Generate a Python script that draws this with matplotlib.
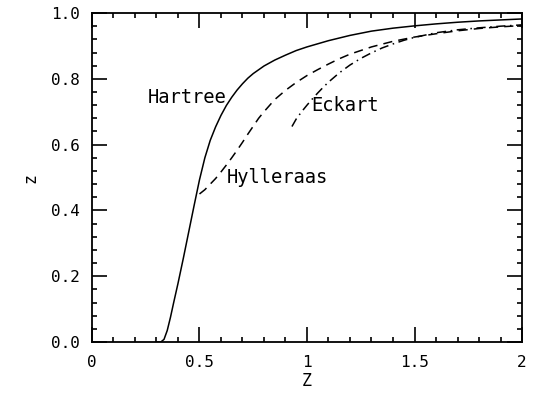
import matplotlib
matplotlib.use("Agg")
import matplotlib.pyplot as plt
from matplotlib.ticker import MultipleLocator


# =========================================
# Curves (z vs Z)
# =========================================

hartree_Z = [0.30, 0.32, 0.335, 0.35, 0.365, 0.38, 0.40, 0.425, 0.45,
             0.475, 0.50, 0.525, 0.55, 0.575, 0.60, 0.625, 0.65, 0.675,
             0.70, 0.725, 0.75, 0.80, 0.85, 0.90, 0.95, 1.0, 1.1, 1.2,
             1.3, 1.4, 1.5, 1.6, 1.7, 1.8, 1.9, 2.0]
hartree_z = [0.0, 0.0, 0.008, 0.035, 0.075, 0.12, 0.178, 0.255, 0.335,
             0.415, 0.493, 0.56, 0.613, 0.654, 0.689, 0.719, 0.744, 0.766,
             0.785, 0.802, 0.816, 0.839, 0.857, 0.872, 0.886, 0.897, 0.916,
             0.932, 0.945, 0.954, 0.961, 0.967, 0.972, 0.976, 0.979, 0.982]

hylleraas_Z = [0.50, 0.525, 0.55, 0.575, 0.60, 0.625, 0.65, 0.675, 0.70,
               0.725, 0.75, 0.775, 0.80, 0.85, 0.90, 0.95, 1.0, 1.05, 1.1,
               1.15, 1.2, 1.3, 1.4, 1.5, 1.6, 1.7, 1.8, 1.9, 2.0]
hylleraas_z = [0.45, 0.463, 0.48, 0.497, 0.517, 0.538, 0.56, 0.583, 0.607,
               0.632, 0.656, 0.68, 0.70, 0.737, 0.765, 0.789, 0.81, 0.828,
               0.845, 0.861, 0.875, 0.897, 0.914, 0.927, 0.937, 0.946,
               0.953, 0.958, 0.962]

eckart_Z = [0.93, 0.95, 0.975, 1.0, 1.025, 1.05, 1.075, 1.1, 1.15, 1.2,
            1.25, 1.3, 1.35, 1.4, 1.45, 1.5, 1.6, 1.7, 1.8, 1.9, 2.0]
eckart_z = [0.655, 0.678, 0.70, 0.72, 0.739, 0.757, 0.774, 0.79, 0.818,
            0.842, 0.862, 0.879, 0.894, 0.906, 0.917, 0.926, 0.94, 0.949,
            0.955, 0.96, 0.964]

x_ticks = [0, 0.5, 1, 1.5, 2]
x_tick_labels = ["0", "0.5", "1", "1.5", "2"]
y_ticks = [0.0, 0.2, 0.4, 0.6, 0.8, 1.0]
y_tick_labels = ["0.0", "0.2", "0.4", "0.6", "0.8", "1.0"]


# =========================================
# Figure
# =========================================

plt.rcParams["font.family"] = ["DejaVu Sans Mono"]

fig = plt.figure(figsize=(5.36, 4.01), dpi=100)
ax = fig.add_axes([0.1716, 0.1471, 0.8023, 0.8204])

ax.plot(hartree_Z, hartree_z, color="black", lw=1.1)
ax.plot(hylleraas_Z, hylleraas_z, color="black", lw=1.1,
        dashes=(6, 4))
ax.plot(eckart_Z, eckart_z, color="black", lw=1.1,
        dashes=(6, 3, 1, 3))


# =========================================
# Labels on curves
# =========================================

ax.text(0.26, 0.726, "Hartree", fontsize=13.5, ha="left", va="baseline")
ax.text(0.628, 0.482, "Hylleraas", fontsize=13.5, ha="left", va="baseline")
ax.text(1.022, 0.701, "Eckart", fontsize=13.5, ha="left", va="baseline")


# =========================================
# Axes
# =========================================

ax.set_xlim(0, 2)
ax.set_ylim(0, 1)

ax.set_xticks(x_ticks)
ax.set_xticklabels(x_tick_labels)
ax.set_yticks(y_ticks)
ax.set_yticklabels(y_tick_labels)
ax.xaxis.set_minor_locator(MultipleLocator(0.1))
ax.yaxis.set_minor_locator(MultipleLocator(0.04))

ax.tick_params(which="both", direction="in", top=True, right=True,
               width=1.2, labelsize=11.5)
ax.tick_params(which="major", length=10.8, pad=9)
ax.tick_params(which="minor", length=3.6)

for s in ax.spines.values():
    s.set_linewidth(1.3)

ax.set_xlabel("Z", fontsize=12, labelpad=2)
ax.set_ylabel("z", fontsize=12, labelpad=8)


# =========================================
# Save
# =========================================

fig.savefig("out.png", dpi=100)
